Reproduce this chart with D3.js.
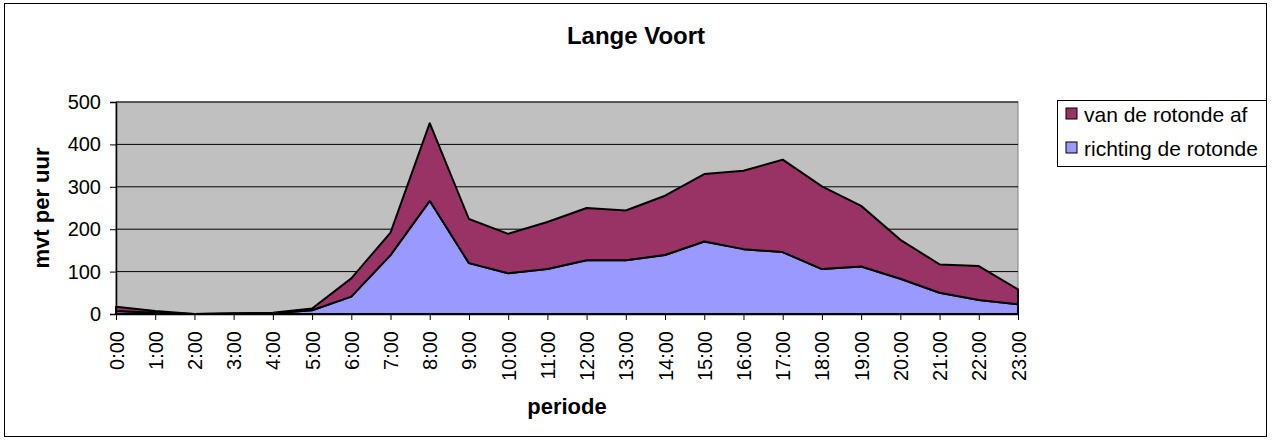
<!DOCTYPE html>
<html>
<head>
<meta charset="utf-8">
<script src="https://cdn.jsdelivr.net/npm/d3@7"></script>
<style>
  body { margin: 0; background: #fff; }
  svg { display: block; font-family: "Liberation Sans", Arial, sans-serif; }
</style>
</head>
<body>
<svg id="chart" width="1274" height="441"></svg>
<script>
// Data

var hours = ["0:00","1:00","2:00","3:00","4:00","5:00","6:00","7:00","8:00","9:00","10:00","11:00",
             "12:00","13:00","14:00","15:00","16:00","17:00","18:00","19:00","20:00","21:00","22:00","23:00"];

var richting = [7, 3, 0, 1, 2, 9, 41, 139, 267, 120, 96, 106, 127, 127, 139, 171, 153, 146, 106, 112, 83, 50, 33, 23];
var vanAf    = [10, 4, 0, 1, 1, 4, 43, 53, 183, 104, 93, 111, 123, 117, 140, 159, 185, 218, 195, 143, 92, 67, 80, 35];

var yTicks = [0, 100, 200, 300, 400, 500];

var seriesNames = ["richting de rotonde", "van de rotonde af"];
var seriesColours = { "richting de rotonde": "#9999FF", "van de rotonde af": "#993366" };

// Plot area

var svg = d3.select("#chart");

var plot = { left: 116, right: 1018, top: 102, bottom: 314 };

var x = d3.scalePoint()
    .domain(hours)
    .range([plot.left, plot.right]);

var y = d3.scaleLinear()
    .domain([0, 500])
    .range([plot.bottom, plot.top]);

// outer border
svg.append("rect")
    .attr("x", 4.5).attr("y", 3.5)
    .attr("width", 1262).attr("height", 433)
    .attr("fill", "none")
    .attr("stroke", "#000")
    .attr("stroke-width", 1);

// grey background
svg.append("rect")
    .attr("x", plot.left).attr("y", plot.top)
    .attr("width", plot.right - plot.left)
    .attr("height", plot.bottom - plot.top)
    .attr("fill", "#C0C0C0")
    .attr("stroke", "#808080")
    .attr("stroke-width", 1);

// gridlines
svg.append("g")
    .selectAll("line")
    .data(yTicks.filter(d => d > 0))
    .enter().append("line")
      .attr("x1", plot.left).attr("x2", plot.right)
      .attr("y1", d => y(d)).attr("y2", d => y(d))
      .attr("stroke", "#000")
      .attr("stroke-width", 1);

// Stacked areas

var table = hours.map((h, i) => ({ hour: h, "richting de rotonde": richting[i], "van de rotonde af": vanAf[i] }));

var stack = d3.stack().keys(seriesNames);
var layers = stack(table);

var area = d3.area()
    .x(d => x(d.data.hour))
    .y0(d => y(d[0]))
    .y1(d => y(d[1]));

svg.append("g")
    .selectAll("path")
    .data(layers)
    .enter().append("path")
      .attr("d", area)
      .attr("fill", d => seriesColours[d.key])
      .attr("stroke", "#000")
      .attr("stroke-width", 2)
      .attr("stroke-linejoin", "round");

// Axes

var yAxis = d3.axisLeft(y)
    .tickValues(yTicks)
    .tickSize(6)
    .tickPadding(9);

var gy = svg.append("g")
    .attr("transform", "translate(" + plot.left + ",0)")
    .call(yAxis);
gy.select(".domain").attr("stroke", "#000").attr("stroke-width", 1.5);
gy.selectAll("text").attr("font-size", 20).attr("fill", "#000")
    .attr("font-family", "Liberation Sans, Arial, sans-serif");

var xAxis = d3.axisBottom(x)
    .tickSize(6)
    .tickSizeOuter(0);

var gx = svg.append("g")
    .attr("transform", "translate(0," + plot.bottom + ")")
    .call(xAxis);
gx.select(".domain").attr("stroke", "#000").attr("stroke-width", 1.5);
gx.selectAll("text")
    .attr("font-size", 20)
    .attr("fill", "#000")
    .attr("font-family", "Liberation Sans, Arial, sans-serif")
    .attr("text-anchor", "end")
    .attr("dy", "0.35em")
    .attr("transform", "translate(0,8) rotate(-90)")
    .attr("x", -9).attr("y", 0);

// Titles

svg.append("text")
    .attr("x", 636).attr("y", 44)
    .attr("text-anchor", "middle")
    .attr("font-size", 24)
    .attr("font-weight", "bold")
    .text("Lange Voort");

svg.append("text")
    .attr("x", 567).attr("y", 414)
    .attr("text-anchor", "middle")
    .attr("font-size", 22)
    .attr("font-weight", "bold")
    .text("periode");

svg.append("text")
    .attr("transform", "translate(49," + ((plot.top + plot.bottom) / 2) + ") rotate(-90)")
    .attr("text-anchor", "middle")
    .attr("font-size", 22)
    .attr("font-weight", "bold")
    .text("mvt per uur");

// Legend

var legend = svg.append("g").attr("transform", "translate(1057,100)");

legend.append("rect")
    .attr("x", 0.5).attr("y", 0.5)
    .attr("width", 209).attr("height", 66)
    .attr("fill", "#fff")
    .attr("stroke", "#000")
    .attr("stroke-width", 1);

var legendItems = legend.selectAll("g.item")
    .data(seriesNames.slice().reverse())
    .enter().append("g")
      .attr("class", "item")
      .attr("transform", (d, i) => "translate(0," + (22 + i * 34) + ")");

legendItems.append("rect")
    .attr("x", 9).attr("y", -14)
    .attr("width", 11).attr("height", 11)
    .attr("fill", d => seriesColours[d])
    .attr("stroke", "#000")
    .attr("stroke-width", 1);

legendItems.append("text")
    .attr("x", 27).attr("y", 0)
    .attr("font-size", 21)
    .text(d => d);
</script>
</body>
</html>
